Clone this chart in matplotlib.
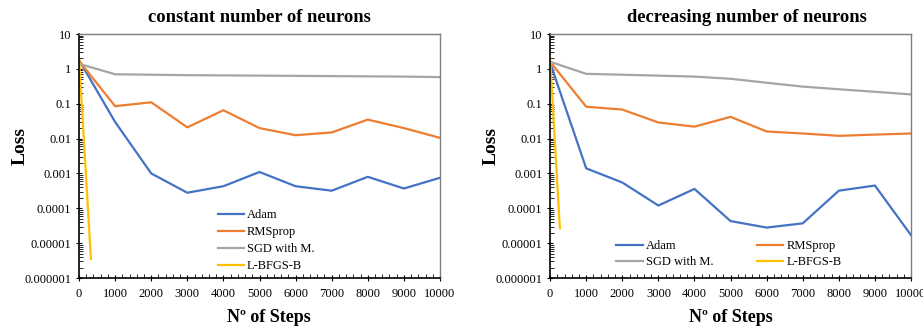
import matplotlib
matplotlib.use("Agg")
import matplotlib.pyplot as plt
from matplotlib.ticker import FixedLocator, FuncFormatter, LogLocator, MultipleLocator

plt.rcParams['font.family'] = ['Liberation Serif', 'DejaVu Serif']

steps = [0, 1000, 2000, 3000, 4000, 5000, 6000, 7000, 8000, 9000, 10000]

# constant number of neurons
adam_c = [1.8, 0.03, 0.001, 0.00028, 0.00043, 0.0011, 0.00043, 0.00032, 0.0008, 0.00037, 0.00075]
rms_c = [1.7, 0.085, 0.11, 0.021, 0.065, 0.02, 0.0125, 0.015, 0.035, 0.02, 0.0105]
sgd_c = [1.4, 0.7, 0.68, 0.66, 0.65, 0.64, 0.63, 0.62, 0.61, 0.6, 0.58]
lbfgs_steps_c = [0, 330]
lbfgs_c = [2.0, 3.5e-6]

# decreasing number of neurons
adam_d = [1.5, 0.0014, 0.00055, 0.00012, 0.00036, 0.000043, 0.000028, 0.000037, 0.00032, 0.00045, 0.000017]
rms_d = [1.6, 0.082, 0.068, 0.029, 0.022, 0.042, 0.016, 0.014, 0.012, 0.013, 0.014]
sgd_d = [1.6, 0.72, 0.68, 0.64, 0.6, 0.52, 0.4, 0.31, 0.26, 0.22, 0.185]
lbfgs_steps_d = [0, 270]
lbfgs_d = [2.0, 2.7e-5]

labels = ["Adam", "RMSprop", "SGD with M.", "L-BFGS-B"]
colors = ["#4472C4", "#ED7D31", "#A5A5A5", "#FFC000"]
titles = ["constant number of neurons", "decreasing number of neurons"]
ytick_vals = [1e-6, 1e-5, 1e-4, 1e-3, 1e-2, 1e-1, 1, 10]
ytick_labels = ["0.000001", "0.00001", "0.0001", "0.001", "0.01", "0.1", "1", "10"]
xtick_vals = steps

fig = plt.figure(figsize=(9.23, 3.28), dpi=100)
ax1 = fig.add_axes([0.0856, 0.1524, 0.3911, 0.7439])
ax2 = fig.add_axes([0.596, 0.1524, 0.391, 0.7439])

datasets = [
    (ax1, adam_c, rms_c, sgd_c, lbfgs_steps_c, lbfgs_c),
    (ax2, adam_d, rms_d, sgd_d, lbfgs_steps_d, lbfgs_d),
]


def ylab(v, p):
    best = min(range(len(ytick_vals)), key=lambda k: abs(ytick_vals[k] - v) / ytick_vals[k])
    return ytick_labels[best]


for i, (ax, a, r, s, ls, l) in enumerate(datasets):
    h1, = ax.plot(steps, a, color=colors[0], lw=1.6, label=labels[0])
    h2, = ax.plot(steps, r, color=colors[1], lw=1.6, label=labels[1])
    h3, = ax.plot(steps, s, color=colors[2], lw=1.6, label=labels[2])
    h4, = ax.plot(ls, l, color=colors[3], lw=1.6, label=labels[3])
    ax.set_yscale('log')
    ax.set_ylim(1e-6, 10)
    ax.set_xlim(0, 10000)
    ax.yaxis.set_major_locator(FixedLocator(ytick_vals))
    ax.yaxis.set_major_formatter(FuncFormatter(ylab))
    ax.yaxis.set_minor_locator(LogLocator(base=10, subs=range(2, 10), numticks=20))
    ax.yaxis.set_minor_formatter(FuncFormatter(lambda v, p: ""))
    ax.xaxis.set_major_locator(FixedLocator(xtick_vals))
    ax.xaxis.set_minor_locator(MultipleLocator(200))
    ax.tick_params(axis='both', which='major', labelsize=9, direction='inout', length=5, width=0.8, pad=3)
    ax.tick_params(axis='both', which='minor', direction='in', length=3, width=0.6)
    ax.tick_params(axis='x', which='major', pad=5)
    for sp in ['top', 'right']:
        ax.spines[sp].set_color('#7f7f7f')
        ax.spines[sp].set_linewidth(1.0)
    for sp in ['left', 'bottom']:
        ax.spines[sp].set_color('black')
        ax.spines[sp].set_linewidth(1.2)
    ax.set_ylabel("Loss", fontsize=14, fontweight='bold', labelpad=-3, y=0.54)
    ax.set_xlabel("Nº of Steps", fontsize=13, fontweight='bold', labelpad=6,
                  x=0.525 if i == 0 else 0.5)
    ax.set_title(titles[i], fontsize=13.3, fontweight='bold', pad=9, x=0.5 if i == 0 else 0.545)
    if i == 0:
        ax.legend(handles=[h1, h2, h3, h4], loc='lower left', bbox_to_anchor=(0.37, 0.003),
                  frameon=False, fontsize=9, handlelength=2.1, handletextpad=0.25,
                  labelspacing=0.4, borderaxespad=0)
    else:
        ax.legend(handles=[h1, h3, h2, h4], loc='lower left', bbox_to_anchor=(0.17, 0.02),
                  ncol=2, frameon=False, fontsize=9, handlelength=2.1, handletextpad=0.25,
                  labelspacing=0.3, columnspacing=3.5, borderaxespad=0)

fig.savefig("out.png", dpi=100)
